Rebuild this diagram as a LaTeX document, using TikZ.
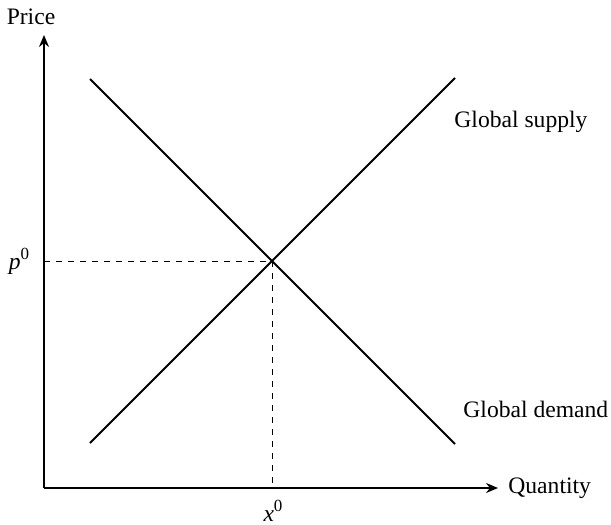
\documentclass[tikz,border=0pt]{standalone}
\usepackage{fontspec}
\setmainfont{Liberation Serif}
\usetikzlibrary{arrows.meta}
\begin{document}
\begin{tikzpicture}[x=0.5pt,y=-0.5pt,
  axis/.style={line width=1pt,-{Stealth[length=6pt,width=5pt,inset=2pt]}},
  curve/.style={line width=1pt},
  guide/.style={line width=0.5pt,dash pattern=on 3pt off 3pt},
  lbl/.style={font=\fontsize{11.8}{14}\selectfont,inner sep=0pt}]
\useasboundingbox (0,0) rectangle (611,525);
\coordinate (O) at (44,488);
\coordinate (ytop) at (44,35);
\coordinate (xend) at (498,488);
\coordinate (d1) at (90,79);
\coordinate (d2) at (455,444);
\coordinate (s1) at (90,443);
\coordinate (s2) at (455,78);
\coordinate (E) at (272,261);
\coordinate (pY) at (44,261);
\coordinate (xX) at (272,488);
\draw[guide] (pY) -- (E);
\draw[guide] (E) -- (xX);
\draw[axis] (O) -- (ytop);
\draw[axis] (O) -- (xend);
\draw[curve] (d1) -- (d2);
\draw[curve] (s1) -- (s2);
\node[lbl] (price) at (31,17) {Price};
\node[lbl,anchor=west] (qty) at (508,488) {Quantity};
\node[lbl,anchor=west] (gs) at (454,122) {Global supply};
\node[lbl,anchor=west] (gd) at (463,409) {Global demand};
\node[lbl] (p0) at (19,261) {\textit{p}\raisebox{0.9ex}{\fontsize{8.5}{10}\selectfont 0}};
\node[lbl] (x0) at (273,511) {\textit{x}\raisebox{0.9ex}{\fontsize{8.5}{10}\selectfont 0}};
\end{tikzpicture}
\end{document}
